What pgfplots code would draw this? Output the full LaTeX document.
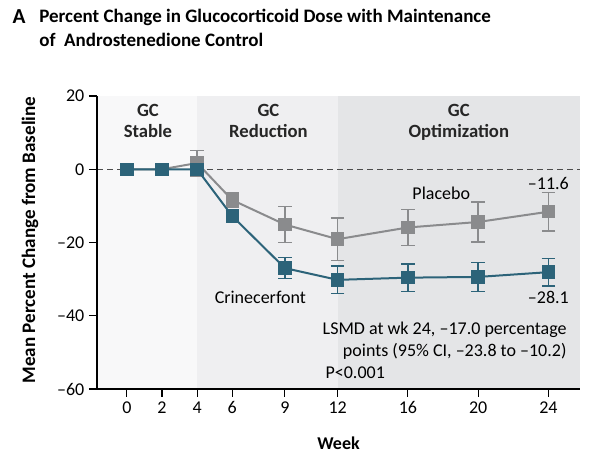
\documentclass[border=0pt]{standalone}
\usepackage{pgfplots}
\pgfplotsset{compat=1.18}
\usepackage{fontspec}
\setmainfont{Carlito}

\definecolor{crin}{HTML}{2C6379}
\definecolor{plac}{HTML}{8A8B8D}
\definecolor{zoneA}{HTML}{F8F8F9}
\definecolor{zoneB}{HTML}{EFEFF1}
\definecolor{zoneC}{HTML}{E4E5E7}

\begin{document}
\begin{tikzpicture}
\path[use as bounding box] (0pt,0pt) rectangle (450pt,349.5pt);

% title
\node[anchor=west,font=\fontsize{16}{18}\selectfont\bfseries] at (6pt,336.75pt) {A};
\node[anchor=north west,align=left,font=\fontsize{14.25}{18}\selectfont\bfseries] at (26pt,346.5pt)
  {Percent Change in Glucocorticoid Dose with Maintenance\\of\ \ Androstenedione Control};

% y label
\node[rotate=90, font=\fontsize{14.3}{16}\selectfont\bfseries] at (22.5pt,169.5pt)
  {Mean Percent Change from Baseline};

\begin{axis}[
  at={(72.75pt,57.75pt)}, anchor=south west,
  width=362.25pt, height=219.75pt, scale only axis,
  xmin=-1.7, xmax=25.8, ymin=-60, ymax=20,
  axis x line=bottom, axis y line=left,
  axis line style={-, line width=0.8pt},
  xtick={0,2,4,6,9,12,16,20,24},
  ytick={-60,-40,-20,0,20},
  yticklabels={\textendash60,\textendash40,\textendash20,0,20},
  tick align=outside, tick style={black, line width=0.8pt},
  major tick length=6pt,
  tick label style={font=\fontsize{13.5}{15}\selectfont},
  /pgf/number format/assume math mode=true,
  xlabel={\textbf{Week}},
  xlabel style={font=\fontsize{13.5}{15}\selectfont, yshift=-10pt},
  clip=false,
  axis on top,
]
% phase shading
\addplot[fill=zoneA, draw=none] coordinates {(-1.7,-60) (4,-60) (4,20) (-1.7,20)} -- cycle;
\addplot[fill=zoneB, draw=none] coordinates {(4,-60) (12,-60) (12,20) (4,20)} -- cycle;
\addplot[fill=zoneC, draw=none] coordinates {(12,-60) (25.8,-60) (25.8,20) (12,20)} -- cycle;

% reference line
\addplot[dash pattern=on 4.5pt off 3pt, color=black!70, line width=0.8pt]
  coordinates {(-1.7,0) (25.8,0)};

% placebo
\addplot[plac, line width=1.5pt, mark=square*, mark size=4.3pt,
  error bars/.cd, y dir=both, y explicit,
  error bar style={line width=1pt}, error mark options={rotate=90, mark size=5pt, line width=1pt}]
  coordinates {
  (0,0) +- (0,0)
  (2,0) +- (0,0)
  (4,1.7) +- (0,3.5)
  (6,-8.4) +- (0,2.0)
  (9,-15.1) +- (0,4.9)
  (12,-19.1) +- (0,5.8)
  (16,-15.9) +- (0,4.9)
  (20,-14.4) +- (0,5.5)
  (24,-11.6) +- (0,5.3)
  };

% crinecerfont
\addplot[crin, line width=1.5pt, mark=square*, mark size=4.3pt,
  error bars/.cd, y dir=both, y explicit,
  error bar style={line width=1pt}, error mark options={rotate=90, mark size=5pt, line width=1pt}]
  coordinates {
  (0,0) +- (0,0)
  (2,0) +- (0,0)
  (4,0) +- (0,0.6)
  (6,-12.8) +- (0,1.5)
  (9,-27.0) +- (0,2.9)
  (12,-30.2) +- (0,3.8)
  (16,-29.6) +- (0,3.7)
  (20,-29.4) +- (0,4.0)
  (24,-28.1) +- (0,3.8)
  };

% phase labels
\node[anchor=north, align=center, font=\fontsize{14}{16}\selectfont\bfseries, color=black!85]
  at (axis cs:1.2,19) {GC\\Stable};
\node[anchor=north, align=center, font=\fontsize{14}{16}\selectfont\bfseries, color=black!85]
  at (axis cs:8.06,19) {GC\\Reduction};
\node[anchor=north, align=center, font=\fontsize{14}{16}\selectfont\bfseries, color=black!85]
  at (axis cs:18.9,19) {GC\\Optimization};

% series labels
\node[font=\fontsize{13.5}{15}\selectfont] at (axis cs:17.9,-6.5) {Placebo};
\node[font=\fontsize{13.5}{15}\selectfont] at (axis cs:24,-3.8) {\textendash11.6};
\node[font=\fontsize{13.5}{15}\selectfont] at (axis cs:7.6,-35.1) {Crinecerfont};
\node[font=\fontsize{13.5}{15}\selectfont] at (axis cs:24,-35.1) {\textendash28.1};

% LSMD note
\node[anchor=north east, align=right, font=\fontsize{13.5}{16.5}\selectfont]
  at (axis cs:25.3,-40.4) {LSMD at wk 24, \textendash17.0 percentage\\points (95\% CI, \textendash23.8 to \textendash10.2)};
\node[anchor=west, inner sep=0pt, font=\fontsize{13.5}{16.5}\selectfont] at (axis cs:11.3,-55.6) {P<0.001};
\end{axis}
\end{tikzpicture}
\end{document}
